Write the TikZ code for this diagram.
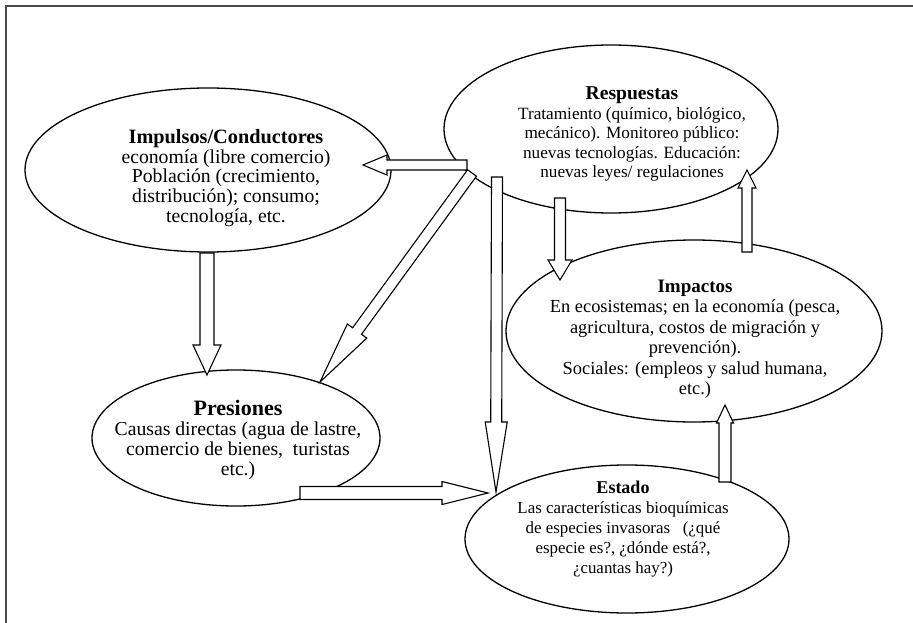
\documentclass[tikz,border=0pt]{standalone}
\usepackage{fontspec}
\setmainfont{Liberation Serif}
\usetikzlibrary{calc,shapes.geometric}
\tikzset{
  ell/.style={draw, ellipse, line width=1.3pt, inner sep=0pt},
  txt/.style={align=center, inner sep=0pt},
  arrowbox/.style={draw, line width=1.1pt, fill=white, line join=miter},
  frameline/.style={draw=black!70, line width=2pt},
}
\newcommand\blockarrow[5]{% start, end, shaft half, head half, head length
  \path ($(#2)!#5!(#1)$) coordinate (hb);
  \draw[arrowbox] ($(#1)!#3!90:(#2)$) -- ($(hb)!#3!90:(#2)$) -- ($(hb)!#4!90:(#2)$)
    -- (#2) -- ($(hb)!#4!-90:(#2)$) -- ($(hb)!#3!-90:(#2)$) -- ($(#1)!#3!-90:(#2)$) -- cycle;
}
\begin{document}
\begin{tikzpicture}[x=1pt,y=-1pt]
\useasboundingbox (0,0) rectangle (913,623);
\draw[frameline] (6,623) -- (6,6) -- (913,6);

% ellipses
\node[ell, minimum width=366pt, minimum height=164pt] (impulsos) at (208,170) {};
\node[ell, minimum width=334pt, minimum height=168pt] (respuestas) at (611,129) {};
\node[ell, minimum width=376pt, minimum height=182pt] (impactos) at (694,331) {};
\node[ell, minimum width=288pt, minimum height=136pt] (presiones) at (236,438) {};
\node[ell, minimum width=324pt, minimum height=148pt] (estado) at (627,539) {};

% arrow end points
\coordinate (aS) at (467,165);  \coordinate (aE) at (363,165);
\coordinate (bS) at (472,173);  \coordinate (bE) at (320,382);
\coordinate (cS) at (497,177);  \coordinate (cE) at (496,492);
\coordinate (dS) at (560,198);  \coordinate (dE) at (560,280);
\coordinate (eS) at (747,252);  \coordinate (eE) at (747,170);
\coordinate (fS) at (207,253);  \coordinate (fE) at (207,375);
\coordinate (gS) at (300,493);  \coordinate (gE) at (488,493);
\coordinate (hS) at (725,482);  \coordinate (hE) at (725,405);

\blockarrow{aS}{aE}{5pt}{10pt}{24pt}
\blockarrow{bS}{bE}{5.5pt}{12pt}{63pt}
\blockarrow{cS}{cE}{5.5pt}{11pt}{70pt}
\blockarrow{dS}{dE}{5.5pt}{12pt}{20pt}
\blockarrow{eS}{eE}{5pt}{9pt}{18pt}
\blockarrow{fS}{fE}{7pt}{14pt}{30pt}
\blockarrow{gS}{gE}{6.5pt}{11.5pt}{46pt}
\blockarrow{hS}{hE}{6pt}{8.5pt}{18pt}

% texts
\node[txt, font=\fontsize{19.7pt}{19.75pt}\selectfont] (impulsosT) at (226,178)
  {{\fontsize{20.3pt}{19.75pt}\selectfont\bfseries Impulsos/Conductores}\\
   economía (libre comercio)\\ Población (crecimiento,\\ distribución); consumo;\\ tecnología, etc.};
\node[txt, font=\fontsize{17.2pt}{19.5pt}\selectfont] (respuestasT) at (632,134)
  {{\fontsize{19.6pt}{19.5pt}\selectfont\bfseries Respuestas}\\
   Tratamiento (químico, biológico,\\ mecánico). Monitoreo público:\\ nuevas tecnologías. Educación:\\ nuevas leyes/ regulaciones};
\node[txt, font=\fontsize{18.4pt}{20.5pt}\selectfont] (impactosT) at (695,339)
  {{\fontsize{19pt}{20.5pt}\selectfont\bfseries Impactos}\\
   En ecosistemas; en la economía (pesca,\\ agricultura, costos de migración y\\ prevención).\\ Sociales: (empleos y salud humana,\\ etc.)};
\node[txt, font=\fontsize{19.7pt}{20pt}\selectfont] (presionesT) at (238,440)
  {{\fontsize{22pt}{20pt}\selectfont\bfseries Presiones}\\
   Causas directas (agua de lastre,\\ comercio de bienes,\ \ turistas\\ etc.)};
\node[txt, font=\fontsize{16.9pt}{20pt}\selectfont] (estadoT) at (623,529)
  {{\fontsize{18pt}{20pt}\selectfont\bfseries Estado}\\
   Las características bioquímicas\\ de especies invasoras\ \ \ (¿qué\\ especie es?, ¿dónde está?,\\ ¿cuantas hay?)};
\end{tikzpicture}
\end{document}
